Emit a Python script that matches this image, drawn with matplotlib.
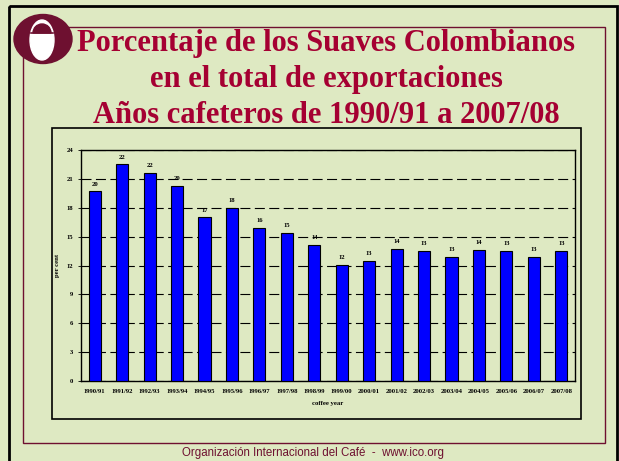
import matplotlib
matplotlib.use("Agg")
import matplotlib.pyplot as plt
from matplotlib.patches import Rectangle, Ellipse, Wedge

# data
years = ["1990/91", "1991/92", "1992/93", "1993/94", "1994/95", "1995/96",
         "1996/97", "1997/98", "1998/99", "1999/00", "2000/01", "2001/02",
         "2002/03", "2003/04", "2004/05", "2005/06", "2006/07", "2007/08"]
share = [19.7, 22.5, 21.6, 20.3, 17.0, 18.0, 15.9, 15.4, 14.1, 12.1, 12.5, 13.7,
         13.5, 12.9, 13.6, 13.5, 12.9, 13.5]
bar_labels = [20, 22, 22, 20, 17, 18, 16, 15, 14, 12, 13, 14, 13, 13, 14, 13, 13, 13]
yticks = [0, 3, 6, 9, 12, 15, 18, 21, 24]

title_lines = ["Porcentaje de los Suaves Colombianos",
               "en el total de exportaciones",
               "Años cafeteros de 1990/91 a 2007/08"]
footer = "Organización Internacional del Café  -  www.ico.org"

bg_color = "#dee9c2"
maroon = "#6e1030"
title_color = "#a50032"

W, H = 619, 461
fig = plt.figure(figsize=(W / 100, H / 100), dpi=100, facecolor=bg_color)

# slide decorations in pixel coordinates
bg = fig.add_axes([0, 0, 1, 1])
bg.set_xlim(0, W)
bg.set_ylim(H, 0)
bg.axis("off")
bg.set_zorder(0)

bg.add_patch(Rectangle((9, 6), 608, 470, fill=False, ec="black", lw=2.0))
bg.add_patch(Rectangle((23, 27), 582, 416, fill=False, ec=maroon, lw=1.0))
bg.add_patch(Rectangle((52, 128), 529, 291, fill=False, ec="black", lw=1.2))

# logo
bg.add_patch(Ellipse((43, 39), 58, 49, color=maroon, zorder=3))
bg.add_patch(Ellipse((42, 40), 24, 40, color="white", zorder=4))
bg.add_patch(Wedge((42, 33), 9, 180, 360, color=maroon, zorder=5))
bg.plot([31, 53], [33, 33], color=maroon, lw=1.2, zorder=6)

for i, line in enumerate(title_lines):
    bg.text(326, 51 + i * 36, line, ha="center", va="baseline",
            fontsize=22, fontweight="bold", family="Liberation Serif",
            color=title_color, zorder=7)

bg.text(313, 456, footer, ha="center", va="baseline", fontsize=8.3,
        family="Liberation Sans", color=maroon)

# chart
ax = fig.add_axes([81 / W, 1 - 381 / H, 494 / W, 231 / H])
ax.set_zorder(1)
ax.set_facecolor(bg_color)
x = range(len(years))
ax.bar(x, share, width=0.44, color="#0000ff", edgecolor="black", linewidth=0.8,
       zorder=3)
for xi, v, lab in zip(x, share, bar_labels):
    ax.text(xi, v + 0.5, str(lab), ha="center", va="bottom", fontsize=4.8,
            fontweight="bold", family="Liberation Serif", zorder=4)

ax.set_xlim(-0.5, len(years) - 0.5)
ax.set_ylim(0, 24)
ax.set_yticks(yticks)
ax.set_yticklabels([str(t) for t in yticks], fontsize=4.8, fontweight="bold",
                   family="Liberation Serif")
ax.set_xticks(list(x))
ax.set_xticklabels(years, fontsize=4.8, fontweight="bold", family="Liberation Serif")
ax.tick_params(axis="x", length=0, pad=6)
ax.tick_params(axis="y", length=2.5, width=0.6, pad=3)
ax.yaxis.grid(True, color="black", linestyle=(0, (9, 4)), linewidth=0.8, zorder=1)
ax.set_axisbelow(True)
for s in ax.spines.values():
    s.set_linewidth(1.0)

ax.set_ylabel("per cent", fontsize=4.8, fontweight="bold", family="Liberation Serif",
              labelpad=5)
ax.set_xlabel("coffee year", fontsize=4.8, fontweight="bold", family="Liberation Serif",
              labelpad=5)

fig.savefig("out.png", dpi=100, facecolor=bg_color)
